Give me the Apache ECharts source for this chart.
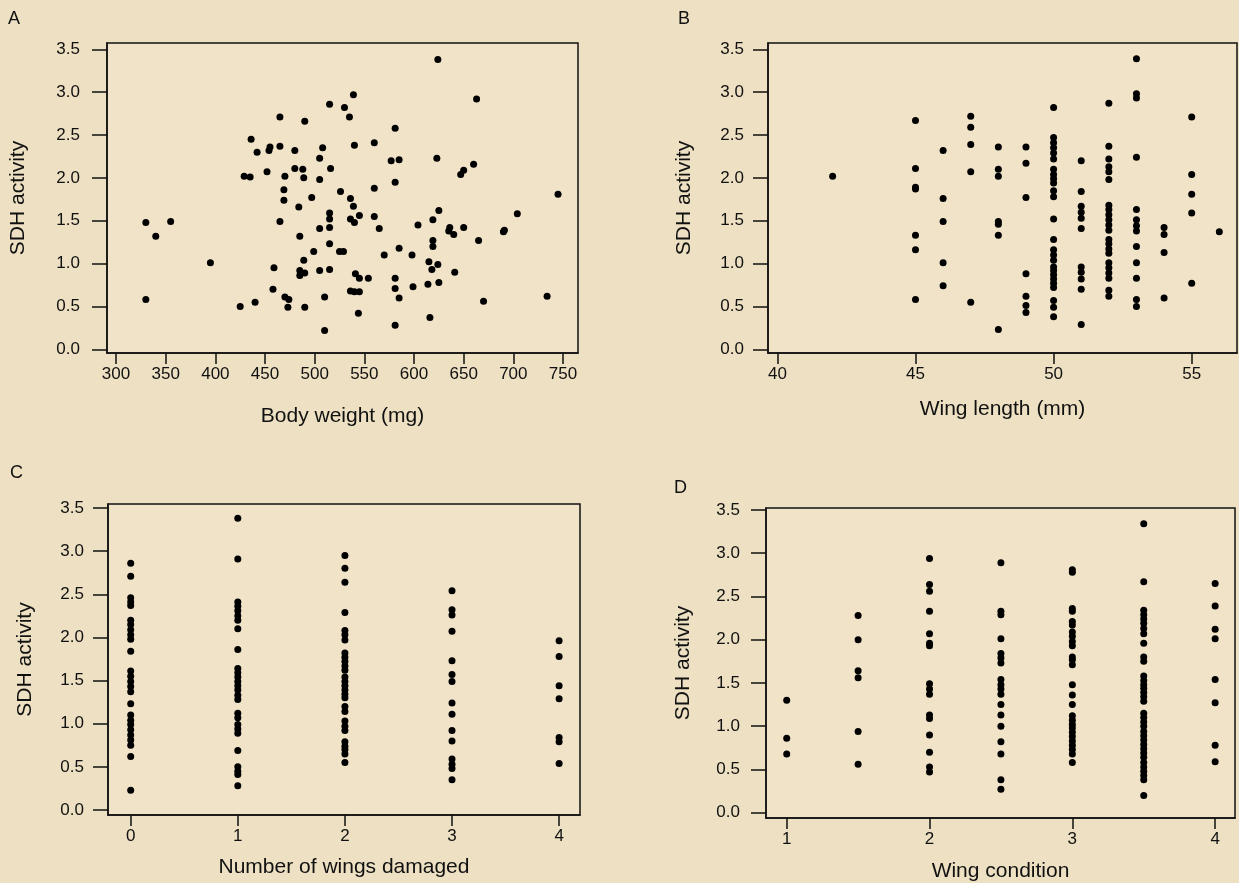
<!DOCTYPE html>
<html>
<head>
<meta charset="utf-8">
<script src="https://cdn.jsdelivr.net/npm/echarts@6/dist/echarts.min.js"></script>
<style>
html,body{margin:0;padding:0;background:#EDE0C3;}
#chart{width:1239px;height:883px;}
</style>
</head>
<body>
<div id="chart"></div>
<script>
// ---------- Data ----------
// Panel A: body weight (mg) vs SDH activity
const aBodyWeight = [515,465,490,436,442,454,455,465,480,508,505,516,480,488,429,435,452,470,489,505,
  526,469,469,497,484,515,515,465,505,515,485,515,499,489,459,485,485,490,505,515,
  458,470,474,473,490,510,440,425,510,330,355,340,395,330,
  624,539,663,530,535,581,540,560,577,585,623,660,650,647,581,560,536,539,745,704,
  625,619,545,536,540,560,565,604,636,635,640,650,691,690,665,619,619,585,570,598,
  615,624,618,641,525,529,541,545,554,581,581,585,599,614,625,536,540,545,544,581,
  616,670,734];
const aSDH = [2.86,2.71,2.66,2.45,2.30,2.32,2.36,2.37,2.32,2.35,2.23,2.11,2.11,2.10,2.02,2.01,2.07,2.02,2.00,1.98,
  1.84,1.86,1.74,1.77,1.66,1.59,1.52,1.49,1.41,1.42,1.32,1.23,1.14,1.04,0.95,0.92,0.86,0.89,0.92,0.93,
  0.70,0.61,0.58,0.49,0.49,0.61,0.55,0.50,0.22,1.48,1.49,1.32,1.01,0.58,
  3.38,2.97,2.92,2.82,2.71,2.58,2.38,2.41,2.20,2.21,2.23,2.16,2.09,2.04,1.95,1.88,1.76,1.67,1.81,1.58,
  1.62,1.51,1.56,1.52,1.48,1.55,1.41,1.45,1.42,1.38,1.34,1.42,1.39,1.37,1.27,1.27,1.20,1.18,1.10,1.10,
  1.02,0.99,0.93,0.90,1.14,1.14,0.88,0.83,0.83,0.83,0.71,0.60,0.73,0.76,0.78,0.68,0.67,0.67,0.42,0.28,
  0.37,0.56,0.62];

// Panel B: wing length (mm) vs SDH activity (grouped by wing length)
const bWingLength = [42,45,46,47,48,49,50,51,52,53,54,55,56];
const bSDH = [
  [2.02],
  [2.67,2.11,1.89,1.87,1.33,1.16,0.58],
  [2.32,1.76,1.49,1.01,0.74],
  [2.72,2.59,2.39,2.07,0.55],
  [2.36,2.10,2.02,1.49,1.46,1.33,0.23],
  [2.36,2.17,1.77,0.88,0.62,0.51,0.43],
  [2.82,2.47,2.41,2.35,2.29,2.22,2.10,2.04,1.99,1.94,1.85,1.78,1.52,1.28,1.16,1.10,1.04,0.96,0.92,0.87,0.82,0.77,0.72,0.57,0.49,0.38],
  [2.20,1.84,1.67,1.60,1.53,1.41,0.96,0.90,0.82,0.70,0.29],
  [2.87,2.37,2.22,2.13,2.07,1.98,1.68,1.63,1.57,1.51,1.45,1.39,1.28,1.23,1.17,1.12,1.01,0.95,0.89,0.83,0.69,0.62],
  [3.39,2.98,2.93,2.24,1.63,1.51,1.44,1.38,1.20,1.01,0.83,0.58,0.50],
  [1.42,1.34,1.13,0.60],
  [2.71,2.04,1.81,1.59,0.77],
  [1.37]
];

// Panel C: number of wings damaged vs SDH activity
const cWingsDamaged = [0,1,2,3,4];
const cSDH = [
  [2.86,2.71,2.46,2.41,2.37,2.20,2.15,2.09,2.03,1.98,1.84,1.61,1.55,1.49,1.43,1.37,1.23,1.10,1.04,0.99,0.93,0.87,0.81,0.75,0.62,0.23],
  [3.38,2.91,2.41,2.36,2.31,2.25,2.20,2.10,1.86,1.64,1.59,1.54,1.49,1.44,1.39,1.33,1.28,1.12,1.07,0.99,0.94,0.89,0.69,0.50,0.45,0.41,0.28],
  [2.95,2.80,2.64,2.29,2.08,2.03,1.97,1.82,1.77,1.72,1.67,1.62,1.54,1.49,1.44,1.39,1.34,1.30,1.20,1.14,1.03,0.97,0.92,0.79,0.74,0.70,0.65,0.55],
  [2.54,2.32,2.26,2.07,1.73,1.57,1.49,1.24,1.11,0.92,0.80,0.59,0.53,0.48,0.35],
  [1.96,1.78,1.44,1.29,0.84,0.79,0.54]
];

// Panel D: wing condition vs SDH activity
const dWingCondition = [1,1.5,2,2.5,3,3.5,4];
const dSDH = [
  [1.30,0.86,0.68],
  [2.28,2.00,1.64,1.56,0.94,0.56],
  [2.94,2.64,2.56,2.33,2.07,1.96,1.93,1.49,1.43,1.37,1.13,1.09,0.90,0.70,0.53,0.47],
  [2.89,2.33,2.29,2.01,1.84,1.79,1.73,1.54,1.48,1.43,1.37,1.25,1.13,1.00,0.82,0.68,0.38,0.27],
  [2.81,2.78,2.36,2.33,2.21,2.17,2.09,2.04,1.98,1.93,1.80,1.77,1.71,1.48,1.36,1.25,1.12,1.07,1.02,0.98,0.93,0.88,0.83,0.78,0.73,0.68,0.58],
  [3.34,2.67,2.34,2.29,2.24,2.19,2.13,2.07,1.96,1.80,1.75,1.58,1.53,1.48,1.44,1.39,1.34,1.29,1.15,1.10,1.05,1.00,0.94,0.89,0.84,0.79,0.74,0.69,0.64,0.58,0.53,0.48,0.43,0.38,0.20],
  [2.65,2.39,2.12,2.01,1.54,1.27,0.78,0.59]
];

// Tick labels
const aXTicks = [300,350,400,450,500,550,600,650,700,750];
const bXTicks = [40,45,50,55];
const cXTicks = [0,1,2,3,4];
const dXTicks = [1,2,3,4];
const yTicks = [0,0.5,1,1.5,2,2.5,3,3.5];

// ---------- Build ----------
function pairs(xs, ys){ return xs.map((x,i)=>[x, ys[i]]); }
function grouped(cats, groups){
  const out = [];
  cats.forEach((c,i)=>groups[i].forEach(v=>out.push([c,v])));
  return out;
}

const FONT = 'Liberation Sans';
const INK = '#111111';
const lineStyle = {color: INK, width: 1.5};

function xAxisCfg(idx, min, max, ticks, name, nameGap){
  return {
    gridIndex: idx, type: 'value', min: min, max: max,
    axisLine: {show: true, onZero: false, lineStyle: lineStyle},
    axisTick: {show: true, length: 11, customValues: ticks, lineStyle: lineStyle},
    axisLabel: {customValues: ticks, margin: 13, fontSize: 17, color: INK, fontFamily: FONT},
    splitLine: {show: false},
    name: name, nameLocation: 'middle', nameGap: nameGap,
    nameTextStyle: {fontSize: 21, color: INK, fontFamily: FONT}
  };
}
function yAxisCfg(idx, min, max, margin, nameGap){
  return {
    gridIndex: idx, type: 'value', min: min, max: max,
    axisLine: {show: true, onZero: false, lineStyle: lineStyle},
    axisTick: {show: true, length: 15, customValues: yTicks, lineStyle: lineStyle},
    axisLabel: {customValues: yTicks, margin: margin, fontSize: 17, color: INK, fontFamily: FONT,
      formatter: v => Number(v).toFixed(1)},
    splitLine: {show: false},
    name: 'SDH activity', nameLocation: 'middle', nameGap: nameGap,
    nameTextStyle: {fontSize: 21, color: INK, fontFamily: FONT}
  };
}
function gridCfg(left, top, width, height){
  return {left: left, top: top, width: width, height: height, show: true,
    borderColor: INK, borderWidth: 1.5, backgroundColor: '#F0E3C8', containLabel: false};
}
function seriesCfg(idx, data){
  return {type: 'scatter', xAxisIndex: idx, yAxisIndex: idx, data: data, symbolSize: 7,
    itemStyle: {color: '#000', opacity: 1}, silent: true, animation: false};
}
function letter(t, left, top){
  return {text: t, left: left, top: top, textStyle: {fontSize: 18, fontWeight: 'normal', color: INK, fontFamily: FONT}};
}

const option = {
  backgroundColor: '#EDE0C3',
  animation: false,
  title: [letter('A', 3, 5), letter('B', 673, 5), letter('C', 5, 459), letter('D', 669, 474)],
  grid: [
    gridCfg(107, 43, 471, 310),
    gridCfg(768, 43, 469, 310),
    gridCfg(108, 504, 472, 311),
    gridCfg(766, 508, 469, 310)
  ],
  xAxis: [
    xAxisCfg(0, 290.9, 765.1, aXTicks, 'Body weight (mg)', 53),
    xAxisCfg(1, 39.66, 56.64, bXTicks, 'Wing length (mm)', 46),
    xAxisCfg(2, -0.212, 4.195, cXTicks, 'Number of wings damaged', 42),
    xAxisCfg(3, 0.855, 4.139, dXTicks, 'Wing condition', 43)
  ],
  yAxis: [
    yAxisCfg(0, -0.043, 3.573, 27, 78),
    yAxisCfg(1, -0.043, 3.573, 24, 73),
    yAxisCfg(2, -0.058, 3.546, 24, 72),
    yAxisCfg(3, -0.061, 3.523, 26, 72)
  ],
  series: [
    seriesCfg(0, pairs(aBodyWeight, aSDH)),
    seriesCfg(1, grouped(bWingLength, bSDH)),
    seriesCfg(2, grouped(cWingsDamaged, cSDH)),
    seriesCfg(3, grouped(dWingCondition, dSDH))
  ]
};

const chart = echarts.init(document.getElementById('chart'), null, {renderer: 'canvas'});
chart.setOption(option);
</script>
</body>
</html>
